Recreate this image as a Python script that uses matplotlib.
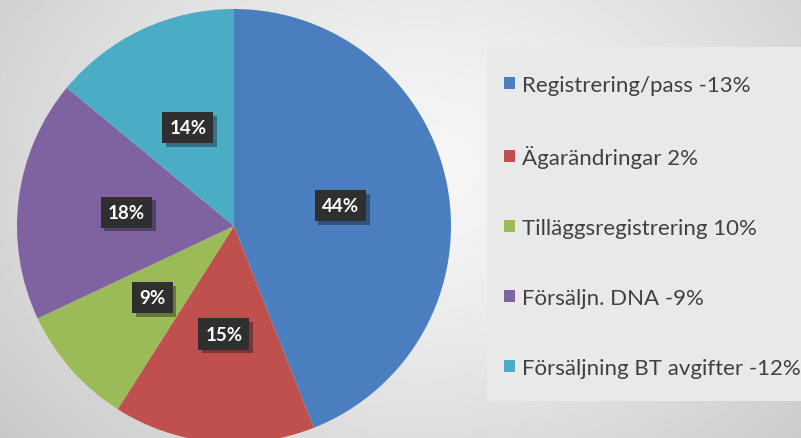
"""Pie chart with percentage labels and a boxed legend on the right."""
import matplotlib.pyplot as plt
import matplotlib.patheffects as pe
import numpy as np
from matplotlib.patches import Rectangle

plt.rcParams['font.family'] = ['Lato', 'DejaVu Sans']

categories = ['Registrering/pass -13%', 'Ägarändringar 2%', 'Tilläggsregistrering 10%',
              'Försäljn. DNA -9%', 'Försäljning BT avgifter -12%']
shares = [44, 15, 9, 18, 14]
colors = ['#4a7ebf', '#c0504d', '#9bbb59', '#7f63a1', '#4bacc6']

W, H = 801, 439
fig = plt.figure(figsize=(W / 100, H / 100), dpi=100)

# background: soft radial grey gradient
bg = fig.add_axes([0, 0, 1, 1], zorder=0)
yy, xx = np.mgrid[0:H, 0:W]
dist = np.hypot(xx - 420, (yy - 170) * 1.3) / 520
shade = np.clip(0.965 - 0.17 * dist ** 1.4, 0.78, 1)
bg.imshow(shade, cmap='gray', vmin=0, vmax=1, extent=[0, 1, 0, 1], aspect='auto')
bg.axis('off')

# legend panel
fig.patches.append(Rectangle((487 / W, 1 - 402 / H), 1, (402 - 48) / H,
                             transform=fig.transFigure, facecolor='#e9e9e9',
                             edgecolor='none', zorder=1))

cx, cy, r = 234, 227, 217
ax = fig.add_axes([(cx - r) / W, 1 - (cy + r) / H, 2 * r / W, 2 * r / H], zorder=2)
wedges, _, autotexts = ax.pie(shares, colors=colors, startangle=90, counterclock=False,
                              radius=1, autopct=lambda p: f'{p:.0f}%', pctdistance=0.5,
                              wedgeprops=dict(linewidth=0))
ax.set_xlim(-1, 1)
ax.set_ylim(-1, 1)
ax.set_aspect('equal')

for t in autotexts:
    t.set_color('white')
    t.set_fontsize(13.5)
    t.set_fontweight('bold')
    t.set_bbox(dict(boxstyle='square,pad=0.38', facecolor='#2f2f2f', edgecolor='none',
                    linewidth=0))
    t.get_bbox_patch().set_path_effects([
        pe.SimplePatchShadow(offset=(2.5, -2.5), shadow_rgbFace='black', alpha=0.35),
        pe.Normal()])

leg = fig.legend(wedges, categories, loc='upper left', bbox_to_anchor=(493 / W, 1 - 65 / H),
                 frameon=False, fontsize=16, handlelength=0.47, handleheight=0.47,
                 handletextpad=0.32, labelspacing=2.25, borderpad=0)
for txt in leg.get_texts():
    txt.set_color('#404040')

fig.savefig('out.png', dpi=100)
